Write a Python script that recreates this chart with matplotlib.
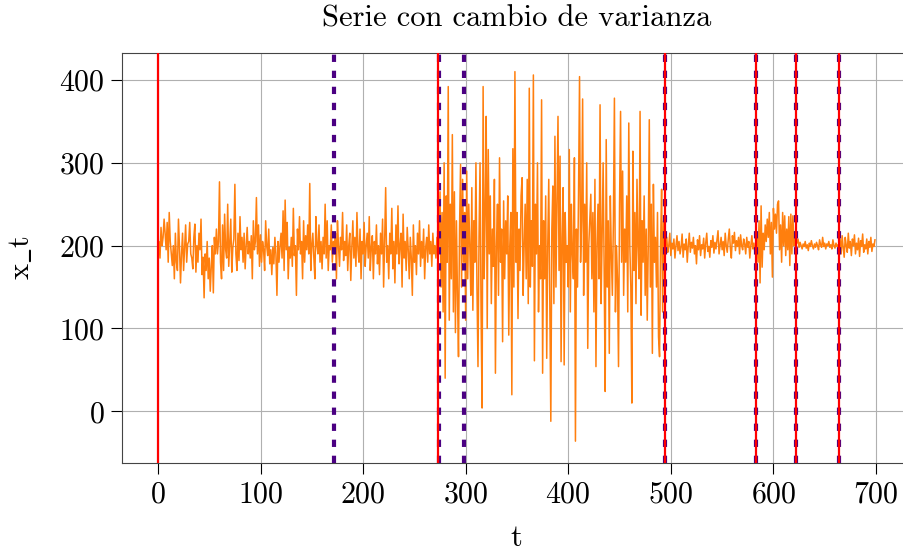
import matplotlib
matplotlib.use("Agg")
import matplotlib.pyplot as plt
import numpy as np

plt.rcParams["font.family"] = "serif"
plt.rcParams["font.serif"] = ["cmr10"]
plt.rcParams["mathtext.fontset"] = "cm"
plt.rcParams["axes.formatter.use_mathtext"] = True
plt.rcParams["axes.unicode_minus"] = False

# serie estimada a ojo, por tramos
seg_a = [185, 205, 185, 222, 200, 210, 232, 215, 195, 228,
         180, 240, 205, 190, 176, 200, 160, 215, 180, 170,
         232, 198, 155, 190, 215, 170, 198, 225, 180, 202,
         205, 228, 190, 185, 172, 210, 226, 168, 200, 180,
         215, 195, 232, 165, 186, 137, 190, 170, 205, 160,
         185, 145, 175, 200, 143, 210, 190, 220, 190, 205,
         277, 180, 160, 225, 170, 238, 195, 185, 250, 175,
         205, 232, 168, 198, 208, 274, 190, 170, 215, 182,
         235, 195, 210, 180, 215, 172, 200, 222, 190, 205,
         185, 212, 160, 230, 195, 205, 258, 190, 225, 175,
         213, 180, 205, 195, 170, 230, 200, 188, 220, 178,
         195, 165, 198, 178, 210, 190, 140, 205, 180, 200,
         215, 185, 242, 170, 255, 195, 228, 160, 198, 185,
         210, 175, 245, 188, 200, 140, 220, 195, 235, 190,
         205, 160, 230, 180, 212, 195, 225, 190, 275, 170,
         200, 215, 185, 160, 235, 200, 190, 225, 180, 205,
         172, 210, 190, 250, 185, 230, 170, 200, 195, 225,
         180, 205]
seg_b = [190, 215, 160, 230, 200, 175, 210, 195, 240, 182,
         205, 188, 225, 170, 200, 215, 158, 198, 230, 185,
         210, 175, 240, 195, 180, 220, 160, 205, 190, 228,
         175, 200, 215, 185, 235, 170, 198, 212, 160, 205,
         190, 225, 178, 200, 165, 215, 190, 232, 150, 205,
         270, 180, 200, 160, 215, 190, 245, 172, 205, 155,
         225, 190, 248, 178, 200, 215, 150, 238, 185, 205,
         170, 222, 195, 160, 210, 185, 140, 225, 180, 200,
         165, 215, 190, 230, 175, 205, 185, 220, 160, 198,
         210, 180, 225, 190, 205, 175, 215, 190, 200, 185,
         210, 195]
seg_c = [200, 265, 150, 240, 120, 300, 40, 260, 180, 392,
         110, 250, 160, 334, 120, 265, 95, 230, 140, 66,
         220, 298, 150, 280, 180, 240, 110, 290, 160, 250,
         200, 140, 270, 122, 230, 180, 300, 150, 54, 210,
         300, 120, 4, 392, 160, 240, 356, 100, 316, 190,
         260, 130, 220, 175, 280, 46, 200, 250, 140, 306,
         180, 220, 84, 254, 160, 230, 190, 260, 92, 200,
         240, 20, 317, 150, 410, 180, 240, 112, 220, 170,
         260, 282, 140, 200, 250, 160, 280, 130, 390, 150,
         230, 175, 406, 61, 250, 190, 300, 120, 200, 160,
         376, 46, 230, 160, 260, 64, 200, 280, 140, -12,
         220, 272, 130, 332, 150, 250, 356, 170, 308, 60,
         210, 270, 56, 240, 180, 200, 150, 316, 120, 250,
         190, 160, 306, -36, 220, 150, 260, 404, 180, 230,
         377, 140, 250, 180, 300, 76, 200, 230, 262, 160,
         240, 120, 280, 54, 200, 250, 160, 370, 130, 210,
         300, 170, 24, 328, 150, 230, 70, 260, 190, 140,
         230, 378, 120, 200, 160, 54, 250, 362, 180, 290,
         140, 220, 180, 260, 120, 348, 200, 150, 10, 314,
         170, 240, 130, 280, 200, 160, 362, 116, 230, 180,
         260, 140, 220, 110, 200, 352, 150, 250, 70, 274,
         180, 210, 150, 240, 90, 66, 200, 268, 120, 230]
seg_d = [205, 198, 210, 192, 200, 215, 188, 203, 196, 208,
         185, 200, 212, 194, 205, 190, 198, 214, 186, 202,
         195, 208, 180, 200, 215, 192, 204, 197, 210, 190,
         200, 178, 207, 195, 212, 188, 201, 196, 209, 185,
         203, 215, 193, 199, 186, 206, 198, 212, 191, 204,
         196, 207, 218, 190, 200, 210, 195, 205, 188, 215,
         200, 192, 208, 220, 197, 185, 212, 203, 216, 194,
         206, 199, 210, 190, 213, 200, 195, 208, 202, 190,
         210, 198, 205, 185, 200, 212, 196, 203, 190]
seg_e = [200, 215, 180, 230, 155, 248, 174, 215, 195, 225,
         205, 232, 210, 240, 190, 228, 162, 245, 220, 238,
         215, 250, 254, 195, 225, 180, 240, 200, 236, 188,
         220, 195, 235, 176, 238, 190, 236, 200, 215, 205]
seg_f = [203, 208, 198, 204, 200, 196, 202, 199, 205, 197,
         201, 194, 203, 199, 206, 200, 196, 202, 198, 204,
         200, 195, 207, 201, 198, 210, 199, 203, 196, 202,
         200, 205, 198, 201, 196, 207, 200, 197, 203, 199,
         201]
seg_g = [195, 208, 190, 212, 198, 186, 210, 200, 192, 215,
         197, 205, 188, 208, 200, 213, 190, 203, 195, 209,
         187, 206, 199, 214, 192, 201, 196, 208, 190, 205,
         198, 210, 193, 202, 199, 207]

x_t = np.array(seg_a + seg_b + seg_c + seg_d + seg_e + seg_f + seg_g)
t = np.arange(len(x_t))

cambios_reales = [0, 273, 494, 583, 622, 664]
cambios_detectados = [172, 274, 298, 494, 583, 622, 664]

fig = plt.figure(figsize=(9.04, 5.52), dpi=100)
ax = fig.add_axes([0.135, 0.161, 0.8726, 0.743])

ax.plot(t, x_t, color="#ff7f0e", lw=1.1, zorder=2)
for c in cambios_detectados:
    ax.axvline(c, color="#4b0082", lw=3, linestyle=(0, (1.75, 2.1)), zorder=3)
for c in cambios_reales:
    ax.axvline(c, color="red", lw=1.6, zorder=4)

ax.set_xlim(-35, 734)
ax.set_ylim(-62.5, 432.5)
ax.set_xticks(np.arange(0, 701, 100))
ax.set_yticks([0, 100, 200, 300, 400])
ax.grid(True, color="#b0b0b0", lw=0.8)
ax.set_axisbelow(True)
ax.tick_params(labelsize=21.5, length=7.7, width=0.8, pad=5)
for s in ax.spines.values():
    s.set_color("#444444")

ax.set_title("Serie con cambio de varianza", fontsize=22, pad=19)
ax.set_xlabel("t", fontsize=22, labelpad=12)
ax.set_ylabel(r"$\mathrm{x\_t}$", fontsize=22, labelpad=17)

fig.savefig("out.png", dpi=100)
